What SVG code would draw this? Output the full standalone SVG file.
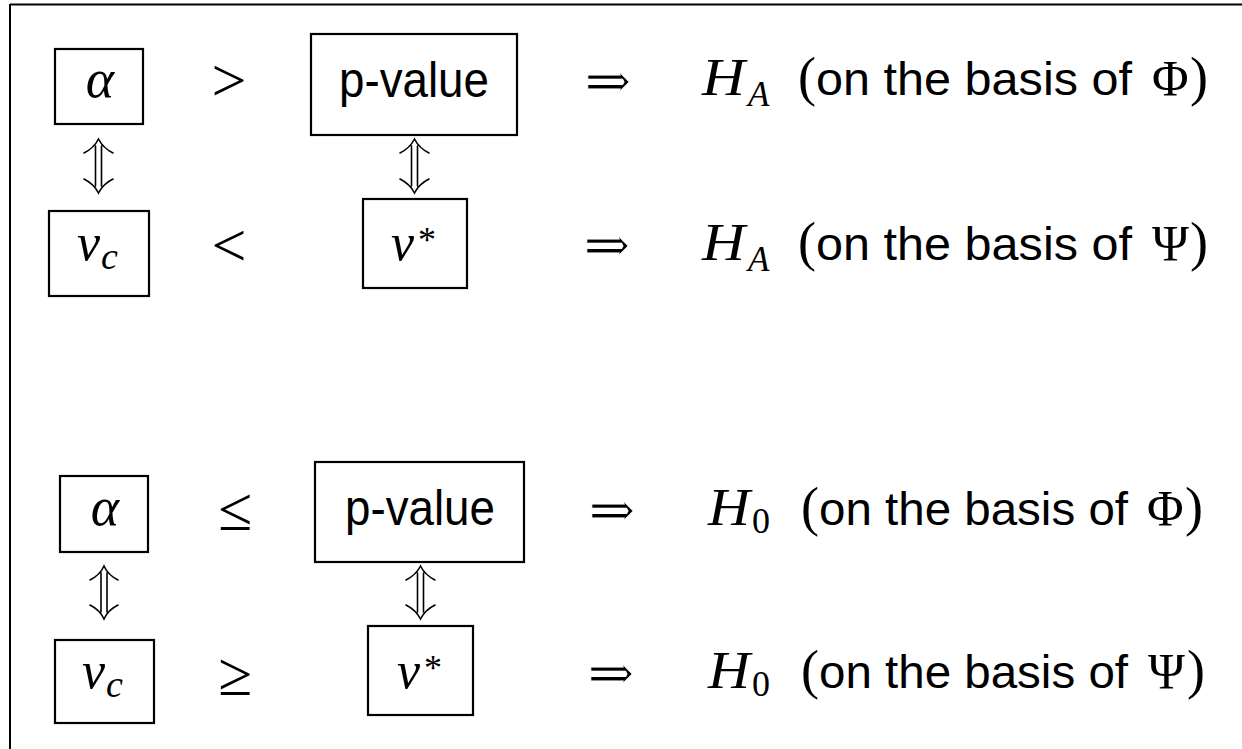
<svg xmlns="http://www.w3.org/2000/svg" width="1242" height="749" viewBox="0 0 1242 749">
<style>
.box{fill:none;stroke:#000;stroke-width:2.2}
.mi{font-family:"Liberation Serif",serif;font-style:italic;fill:#000}
.rm{font-family:"Liberation Serif",serif;font-style:normal;fill:#000}
.sf{font-family:"Liberation Sans",sans-serif;font-style:normal;fill:#000}
.rel{font-family:"Liberation Serif",serif;fill:#000;font-size:62px;text-anchor:middle}
.arr{font-family:"DejaVu Serif",serif;fill:#000;font-size:56px;text-anchor:middle;stroke:#fff;stroke-width:1.1;paint-order:fill stroke}
.conn{fill:none;stroke:#000;stroke-width:1.6;stroke-linecap:round}
</style>
<rect width="1242" height="749" fill="#fff"/>
<g id="frame">
<line x1="10" y1="4.5" x2="1242" y2="4.5" stroke="#000" stroke-width="2"/>
<line x1="10" y1="4" x2="10" y2="749" stroke="#000" stroke-width="2"/>
</g>

<g id="connectors">
<path class="conn" d="M84,153 Q94,148 98.5,139 Q103,148 113,153 M95.5,146 V186 M101.5,146 V186 M84,179 Q94,184 98.5,193 Q103,184 113,179"/>
<path class="conn" d="M400,153 Q410,148 414.5,139 Q419,148 429,153 M411.5,146 V186 M417.5,146 V186 M400,179 Q410,184 414.5,193 Q419,184 429,179"/>
<path class="conn" d="M90,580 Q100,575 104,566 Q108,575 118,580 M101,573 V612 M107,573 V612 M90,605 Q100,610 104,619 Q108,610 118,605"/>
<path class="conn" d="M406,580 Q416,575 420.5,566 Q425,575 435,580 M417.5,573 V612 M423.5,573 V612 M406,605 Q416,610 420.5,619 Q425,610 435,605"/>
</g>

<g id="alpha1">
<rect class="box" x="55" y="49" width="88" height="75"/>
<text class="mi" x="100" y="97" font-size="54" text-anchor="middle">α</text>
</g>
<g id="rel1"><text class="rel" x="229" y="101">&gt;</text></g>
<g id="pvalue1">
<rect class="box" x="311" y="34" width="206" height="101"/>
<text class="sf" x="339" y="97" font-size="50" textLength="150" lengthAdjust="spacingAndGlyphs">p-value</text>
</g>
<g id="vc1">
<rect class="box" x="49" y="211" width="100" height="85"/>
<text class="mi" x="77" y="260" font-size="52">v<tspan font-size="38" dy="9" dx="1">c</tspan></text>
</g>
<g id="rel2"><text class="rel" x="229" y="266">&lt;</text></g>
<g id="vstar1">
<rect class="box" x="363" y="199" width="104" height="89"/>
<text class="mi" x="391" y="260" font-size="52">v<tspan class="rm" x="418" y="252" font-size="36">*</tspan></text>
</g>
<g id="res1">
<text class="arr" x="608" y="100">⇒</text>
<text class="mi" y="95" font-size="52"><tspan x="702" textLength="43" lengthAdjust="spacingAndGlyphs">H</tspan><tspan x="748" y="106" font-size="35">A</tspan><tspan class="rm" x="798" y="95" font-size="54">(</tspan><tspan class="sf" x="816" font-size="46" textLength="316" lengthAdjust="spacingAndGlyphs">on the basis of</tspan><tspan class="rm" x="1152" font-size="50">Φ</tspan><tspan class="rm" x="1190" font-size="54">)</tspan></text>
</g>
<g id="res2">
<text class="arr" x="607" y="264">⇒</text>
<text class="mi" y="260" font-size="52"><tspan x="702" textLength="43" lengthAdjust="spacingAndGlyphs">H</tspan><tspan x="748" y="271" font-size="35">A</tspan><tspan class="rm" x="798" y="260" font-size="54">(</tspan><tspan class="sf" x="816" font-size="46" textLength="316" lengthAdjust="spacingAndGlyphs">on the basis of</tspan><tspan class="rm" x="1152" font-size="50">Ψ</tspan><tspan class="rm" x="1190" font-size="54">)</tspan></text>
</g>

<g id="alpha2">
<rect class="box" x="60" y="476" width="88" height="76"/>
<text class="mi" x="105" y="525" font-size="54" text-anchor="middle">α</text>
</g>
<g id="rel3"><text class="rel" x="235" y="530">≤</text></g>
<g id="pvalue2">
<rect class="box" x="315" y="462" width="209" height="100"/>
<text class="sf" x="345" y="525" font-size="50" textLength="150" lengthAdjust="spacingAndGlyphs">p-value</text>
</g>
<g id="vc2">
<rect class="box" x="55" y="640" width="99" height="83"/>
<text class="mi" x="82" y="688" font-size="52">v<tspan font-size="38" dy="9" dx="1">c</tspan></text>
</g>
<g id="rel4"><text class="rel" x="235" y="695">≥</text></g>
<g id="vstar2">
<rect class="box" x="368" y="626" width="105" height="89"/>
<text class="mi" x="397" y="688" font-size="52">v<tspan class="rm" x="424" y="680" font-size="36">*</tspan></text>
</g>
<g id="res3">
<text class="arr" x="612" y="529">⇒</text>
<text class="mi" y="525" font-size="52"><tspan x="708" textLength="42" lengthAdjust="spacingAndGlyphs">H</tspan><tspan class="rm" x="752" y="533" font-size="36">0</tspan><tspan class="rm" x="801" y="525" font-size="54">(</tspan><tspan class="sf" x="819" font-size="46" textLength="309" lengthAdjust="spacingAndGlyphs">on the basis of</tspan><tspan class="rm" x="1147" font-size="50">Φ</tspan><tspan class="rm" x="1185" font-size="54">)</tspan></text>
</g>
<g id="res4">
<text class="arr" x="611" y="692">⇒</text>
<text class="mi" y="688" font-size="52"><tspan x="708" textLength="42" lengthAdjust="spacingAndGlyphs">H</tspan><tspan class="rm" x="752" y="696" font-size="36">0</tspan><tspan class="rm" x="801" y="688" font-size="54">(</tspan><tspan class="sf" x="819" font-size="46" textLength="309" lengthAdjust="spacingAndGlyphs">on the basis of</tspan><tspan class="rm" x="1148" font-size="50">Ψ</tspan><tspan class="rm" x="1187" font-size="54">)</tspan></text>
</g>
</svg>
